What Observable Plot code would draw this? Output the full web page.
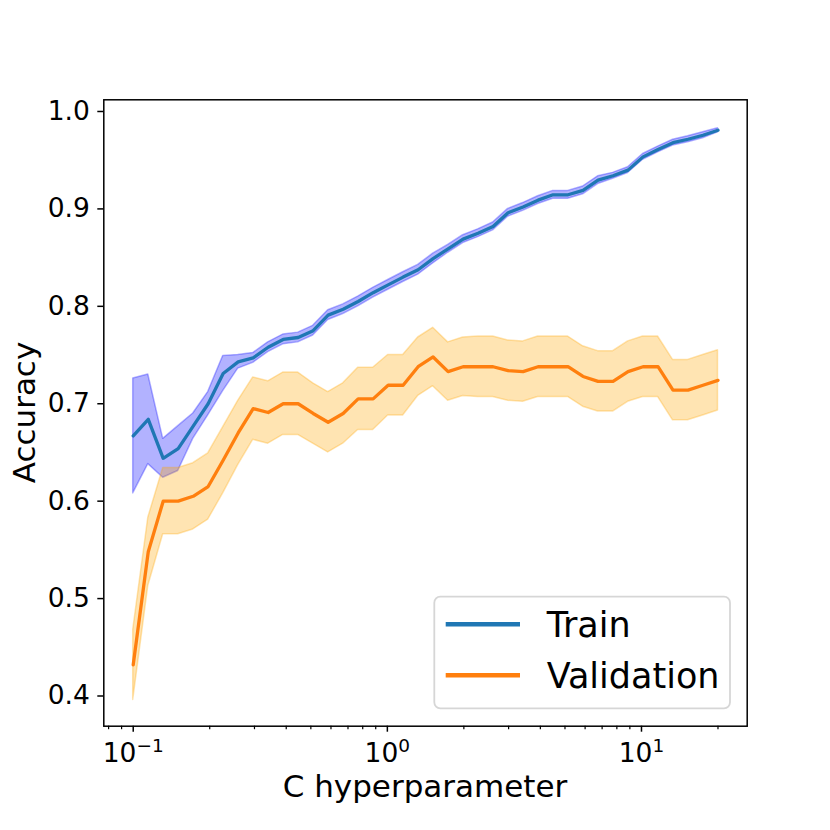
<!DOCTYPE html>
<html>
<head>
<meta charset="utf-8">
<script src="https://cdn.jsdelivr.net/npm/d3@7"></script>
<script src="https://cdn.jsdelivr.net/npm/@observablehq/plot@0.6"></script>
<style>
  body { margin: 0; background: #fff; }
  #chart { width: 830px; height: 830px; }
</style>
</head>
<body>
<div id="chart"></div>
<script>
// C hyperparameter values (log-spaced, 0.1 to 20, 40 points)
const C = [0.1, 0.1146, 0.1312, 0.1503, 0.1722, 0.1972, 0.2259, 0.2588, 0.2965, 0.3396,
  0.3891, 0.4457, 0.5105, 0.5848, 0.6699, 0.7674, 0.8791, 1.007, 1.1535, 1.3214,
  1.5136, 1.7339, 1.9862, 2.2752, 2.6063, 2.9856, 3.42, 3.9177, 4.4878, 5.1409,
  5.889, 6.7459, 7.7276, 8.8521, 10.14, 11.6155, 13.3058, 15.242, 17.46, 20];

const trainMean = [0.667, 0.684, 0.644, 0.654, 0.677, 0.700, 0.731, 0.743, 0.747, 0.758,
  0.766, 0.768, 0.775, 0.791, 0.797, 0.805, 0.814, 0.822, 0.830, 0.8375,
  0.849, 0.859, 0.869, 0.875, 0.882, 0.896, 0.902, 0.909, 0.9145, 0.9145,
  0.919, 0.9295, 0.934, 0.9398, 0.9534, 0.961, 0.968, 0.9715, 0.9756, 0.9807];

const trainStd = [0.059, 0.046, 0.020, 0.023, 0.013, 0.012, 0.018, 0.007, 0.005, 0.005,
  0.005, 0.005, 0.005, 0.005, 0.005, 0.005, 0.005, 0.005, 0.005, 0.005,
  0.005, 0.004, 0.004, 0.004, 0.004, 0.004, 0.004, 0.004, 0.004, 0.004,
  0.004, 0.004, 0.003, 0.003, 0.003, 0.003, 0.003, 0.003, 0.003, 0.002];

const valMean = [0.432, 0.548, 0.600, 0.600, 0.605, 0.615, 0.642, 0.670, 0.695, 0.691,
  0.700, 0.700, 0.690, 0.681, 0.690, 0.705, 0.705, 0.719, 0.719, 0.738,
  0.748, 0.733, 0.738, 0.738, 0.738, 0.734, 0.733, 0.738, 0.738, 0.738,
  0.728, 0.723, 0.723, 0.733, 0.738, 0.738, 0.714, 0.714, 0.719, 0.724];

const valStd = [0.036, 0.035, 0.034, 0.034, 0.034, 0.034, 0.034, 0.033, 0.032, 0.032,
  0.032, 0.032, 0.031, 0.031, 0.031, 0.032, 0.032, 0.031, 0.031, 0.030,
  0.030, 0.030, 0.030, 0.031, 0.031, 0.031, 0.031, 0.031, 0.031, 0.031,
  0.031, 0.031, 0.031, 0.031, 0.031, 0.031, 0.031, 0.031, 0.031, 0.031];

const yTicks = [0.4, 0.5, 0.6, 0.7, 0.8, 0.9, 1.0];
const xTicks = [0.1, 1, 10];
const xTickExp = ["\u22121", "0", "1"];
const xMinorTicks = [0.08, 0.09, 0.2, 0.3, 0.4, 0.5, 0.6, 0.7, 0.8, 0.9,
  2, 3, 4, 5, 6, 7, 8, 9, 20];
const seriesNames = ["Train", "Validation"];
const seriesColors = ["#1f77b4", "#ff7f0e"];

const data = C.map((c, i) => ({C: c, tm: trainMean[i], ts: trainStd[i], vm: valMean[i], vs: valStd[i]}));

const chart = Plot.plot({
  width: 830,
  height: 830,
  marginLeft: 103.3,
  marginRight: 83.3,
  marginTop: 99.3,
  marginBottom: 104.3,
  style: {fontFamily: "'DejaVu Sans', sans-serif", background: "white", color: "black", overflow: "visible"},
  x: {type: "log", domain: [0.0766, 26.06]},
  y: {domain: [0.369, 1.012]},
  marks: [
    Plot.areaY(data, {x: "C", y1: d => d.tm - d.ts, y2: d => d.tm + d.ts, fill: "blue", fillOpacity: 0.3, stroke: "blue", strokeOpacity: 0.3, strokeWidth: 1.5}),
    Plot.areaY(data, {x: "C", y1: d => d.vm - d.vs, y2: d => d.vm + d.vs, fill: "orange", fillOpacity: 0.3, stroke: "orange", strokeOpacity: 0.3, strokeWidth: 1.5}),
    Plot.lineY(data, {x: "C", y: "tm", stroke: seriesColors[0], strokeWidth: 3.3}),
    Plot.lineY(data, {x: "C", y: "vm", stroke: seriesColors[1], strokeWidth: 3.3}),
    Plot.axisY({ticks: yTicks, tickFormat: d3.format(".1f"), tickSize: 6, tickPadding: 8, fontSize: 26.5, label: null, strokeWidth: 1.5}),
    Plot.axisX({ticks: xMinorTicks, tickSize: 3.5, text: null, label: null, strokeWidth: 1.2}),
    Plot.axisX({ticks: xTicks, tickSize: 6, tickPadding: 11, fontSize: 26.5, label: null, strokeWidth: 1.5,
      tickFormat: d => "10|" + xTickExp[xTicks.indexOf(d)]}),
    Plot.frame({stroke: "black", strokeWidth: 1.5})
  ]
});

document.getElementById("chart").appendChild(chart);
const svg = d3.select(chart);

// superscript exponents in x tick labels
svg.selectAll("text").each(function () {
  const t = this.textContent;
  if (!t || t.indexOf("|") < 0) return;
  const [b, e] = t.split("|");
  const s = d3.select(this);
  s.text(null);
  s.append("tspan").text(b);
  s.append("tspan").attr("dy", "-10").attr("font-size", "18.5px").text(e);
});

// axis labels
svg.append("text")
  .attr("x", 425).attr("y", 796.7)
  .attr("text-anchor", "middle").attr("font-size", 31).attr("fill", "black")
  .text("C hyperparameter");
svg.append("text")
  .attr("transform", "translate(35,412.5) rotate(-90)")
  .attr("text-anchor", "middle").attr("font-size", 31).attr("fill", "black")
  .text("Accuracy");

// legend
const lg = svg.append("g");
lg.append("rect")
  .attr("x", 434.3).attr("y", 596.7).attr("width", 295.7).attr("height", 111.6)
  .attr("rx", 6).attr("fill", "white").attr("fill-opacity", 0.8)
  .attr("stroke", "#cccccc").attr("stroke-opacity", 0.8).attr("stroke-width", 1.8);
seriesNames.forEach((name, i) => {
  const ly = 624.3 + i * 51;
  lg.append("line").attr("x1", 445.7).attr("x2", 520).attr("y1", ly).attr("y2", ly)
    .attr("stroke", seriesColors[i]).attr("stroke-width", 4.5);
  lg.append("text").attr("x", 546.7).attr("y", 636.7 + i * 51.6)
    .attr("text-anchor", "start")
    .attr("font-size", 35).attr("fill", "black").text(name);
});
</script>
</body>
</html>
